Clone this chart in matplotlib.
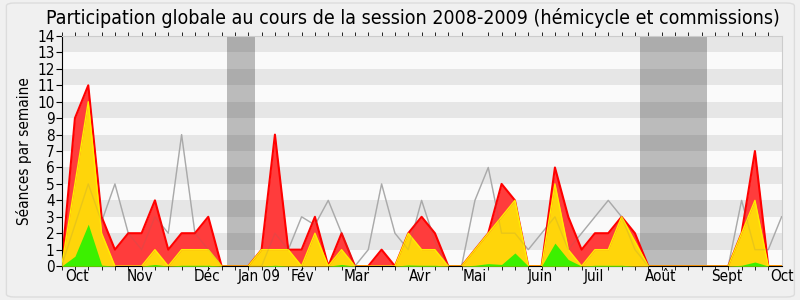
import numpy as np
import matplotlib
matplotlib.use('Agg')
from matplotlib import pyplot as plt
from matplotlib.patches import FancyBboxPatch

plt.rcParams['font.family'] = 'DejaVu Sans'
plt.rcParams['font.stretch'] = 'condensed'

# weekly values (week 0 = start of session, early October 2008)
total = [0, 9, 11, 3, 1, 2, 2, 4, 1, 2, 2, 3, 0, 0, 0, 1, 8, 1, 1, 3,
         0, 2, 0, 0, 1, 0, 2, 3, 2, 0, 0, 1, 2, 5, 4, 0, 0, 6, 3, 1,
         2, 2, 3, 2, 0, 0, 0, 0, 0, 0, 0, 2, 7, 0, 0]
commissions = [0, 5, 10, 2, 0, 0, 0, 1, 0, 1, 1, 1, 0, 0, 0, 1, 1, 1, 0, 2,
               0, 1, 0, 0, 0, 0, 2, 1, 1, 0, 0, 1, 2, 3, 4, 0, 0, 5, 1, 0,
               1, 1, 3, 1.5, 0, 0, 0, 0, 0, 0, 0, 2, 4, 0, 0]
hemicycle = [0, 0.6, 2.55, 0.06, 0, 0, 0, 0.1, 0, 0.05, 0.05, 0.05, 0, 0, 0, 0, 0.05, 0, 0, 0,
             0, 0.1, 0, 0, 0, 0, 0.07, 0.05, 0.05, 0, 0, 0.05, 0.15, 0.1, 0.8, 0, 0, 1.4, 0.4, 0,
             0.05, 0.05, 0.05, 0, 0, 0, 0, 0, 0, 0, 0, 0.05, 0.25, 0, 0]
mediane = [0, 2.5, 5, 2.7, 5, 2, 1, 3, 2, 8, 2, 1, 0, 0, 0, 0, 2, 1, 3, 2.5,
           4, 2, 0, 1, 5, 2, 1, 4, 1.5, 0, 0, 4, 6, 2, 2, 1, 2, 3, 1, 2,
           3, 4, 3, 1, 0, 0, 0, 0, 0, 0, 0, 4, 1, 1, 3]

vacances = [(12.4, 14.5), (43.4, 48.4)]

mois = ['Oct', 'Nov', 'Déc', 'Jan 09', 'Fév', 'Mar', 'Avr', 'Mai', 'Juin', 'Juil', 'Août', 'Sept', 'Oct']
mois_pos = [1.15, 5.9, 10.9, 14.8, 18.1, 22.1, 26.9, 31.0, 35.9, 39.9, 44.9, 49.9, 54.0]

weeks = np.arange(len(total))

fig = plt.figure(figsize=(8, 3), dpi=100, facecolor='#f0f0f0')
fig.patches.append(FancyBboxPatch((0.008, 0.01), 0.985, 0.98, boxstyle='round,pad=0,rounding_size=0.01',
                                  transform=fig.transFigure, fc='none', ec='#dcdcdc', lw=1))
ax = fig.add_axes([0.077, 0.113, 0.9, 0.767])
ax.set_facecolor('#fafafa')

# horizontal stripes
for y in range(1, 14, 2):
    ax.axhspan(y, y + 1, color='#e6e6e6', lw=0, zorder=0)
for a, b in vacances:
    ax.axvspan(a, b, color='black', alpha=0.25, lw=0, zorder=1)

ax.plot(weeks, mediane, color='#b4b4b4', lw=1, zorder=1.5)
ax.fill_between(weeks, 0, total, color='#ff3c3c', lw=0, zorder=2)
ax.plot(weeks, total, color='#ff0000', lw=1.5, zorder=2)
ax.fill_between(weeks, 0, commissions, color='#ffd50a', lw=0, zorder=3)
ax.plot(weeks, commissions, color='#ffee00', lw=1, zorder=3)
ax.fill_between(weeks, 0, hemicycle, color='#3cf000', lw=0, zorder=4)
ax.plot(weeks, mediane, color='#707070', lw=1, alpha=0.15, zorder=5)

ax.set_xlim(0, 54)
ax.set_ylim(0, 14)
ax.set_yticks(range(15))
ax.set_xticks(mois_pos)
ax.set_xticklabels(mois)
ax.set_xticks(np.arange(0, 55), minor=True)
ax.tick_params(axis='x', which='major', length=0, labelsize=11, pad=2)
ax.tick_params(axis='x', which='minor', length=3, top=True, direction='out')
ax.tick_params(axis='y', labelsize=11, length=4, pad=1)
for s in ['top', 'right']:
    ax.spines[s].set_color('#cccccc')
ax.set_ylabel('Séances par semaine', fontsize=11, labelpad=4)
fig.text(0.516, 0.94, 'Participation globale au cours de la session 2008-2009 (hémicycle et commissions)',
         ha='center', va='center', fontsize=14)

plt.savefig('out.png', dpi=100, facecolor=fig.get_facecolor())
